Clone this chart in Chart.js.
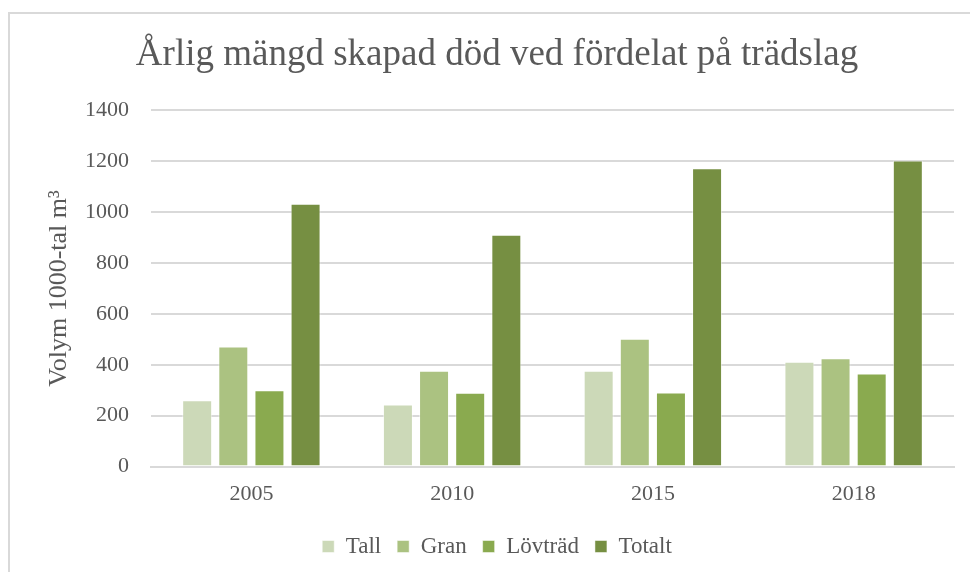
<!DOCTYPE html>
<html>
<head>
<meta charset="utf-8">
<script src="https://cdn.jsdelivr.net/npm/chart.js@4/dist/chart.umd.min.js"></script>
<style>
  html, body { margin: 0; padding: 0; background: #fff; }
  #wrap { position: relative; width: 970px; height: 572px; overflow: hidden; }
  #frame { position: absolute; left: 8px; top: 12px; width: 980px; height: 600px;
           border-top: 2px solid #d9d9d9; border-left: 2px solid #d9d9d9; }
  canvas { position: absolute; left: 0; top: 0; }
</style>
</head>
<body>
<div id="wrap">
  <div id="frame"></div>
  <canvas id="c" width="970" height="572"></canvas>
</div>
<script>
const categories = ['2005', '2010', '2015', '2018'];
const tall     = [260, 244, 376, 412];
const gran     = [472, 376, 502, 426];
const lovtrad  = [300, 290, 291, 366];
const totalt   = [1033, 911, 1173, 1203];
const seriesNames = ['Tall', 'Gran', 'Lövträd', 'Totalt'];
const yTicks = [0, 200, 400, 600, 800, 1000, 1200, 1400];

const colors = ['#ccd9b8', '#abc281', '#8aaa4f', '#768f42'];
const serif = "'Liberation Serif', 'Times New Roman', serif";
const grey = '#595959';

new Chart(document.getElementById('c'), {
  type: 'bar',
  data: {
    labels: categories,
    datasets: [tall, gran, lovtrad, totalt].map((d, i) => ({
      label: seriesNames[i],
      data: d,
      backgroundColor: colors[i],
      borderColor: 'rgba(255,255,255,0.5)',
      borderWidth: 1,
      categoryPercentage: 0.72,
      barPercentage: 0.83
    }))
  },
  options: {
    responsive: false,
    animation: false,
    layout: { padding: { left: 40, right: 16, top: 0, bottom: 4 } },
    plugins: {
      title: {
        display: true,
        text: 'Årlig mängd skapad död ved fördelat på trädslag',
        color: grey,
        font: { family: serif, size: 37, weight: 'normal' },
        padding: { top: 33, bottom: 33 }
      },
      legend: {
        position: 'bottom',
        labels: {
          color: grey,
          font: { family: serif, size: 23 },
          boxWidth: 12,
          boxHeight: 12,
          padding: 16
        }
      },
      tooltip: { enabled: false }
    },
    scales: {
      x: {
        grid: { display: false },
        border: { display: true, color: '#d9d9d9', width: 2 },
        afterFit: (s) => { s.height = 52.5; },
        ticks: { color: grey, font: { family: serif, size: 22 }, padding: 7 }
      },
      y: {
        min: 0,
        max: 1400,
        afterBuildTicks: (s) => { s.ticks = yTicks.map(v => ({ value: v })); },
        afterFit: (s) => { s.width = 111; },
        grid: { color: '#d9d9d9', lineWidth: 2, drawTicks: false },
        border: { display: false },
        ticks: {
          color: grey, font: { family: serif, size: 22 }, padding: 22,
          callback: (v) => String(v)
        },
        title: {
          display: true,
          text: 'Volym 1000-tal m³',
          color: grey,
          font: { family: serif, size: 26 },
          padding: { top: 4, bottom: 0 }
        }
      }
    }
  }
});
</script>
</body>
</html>
